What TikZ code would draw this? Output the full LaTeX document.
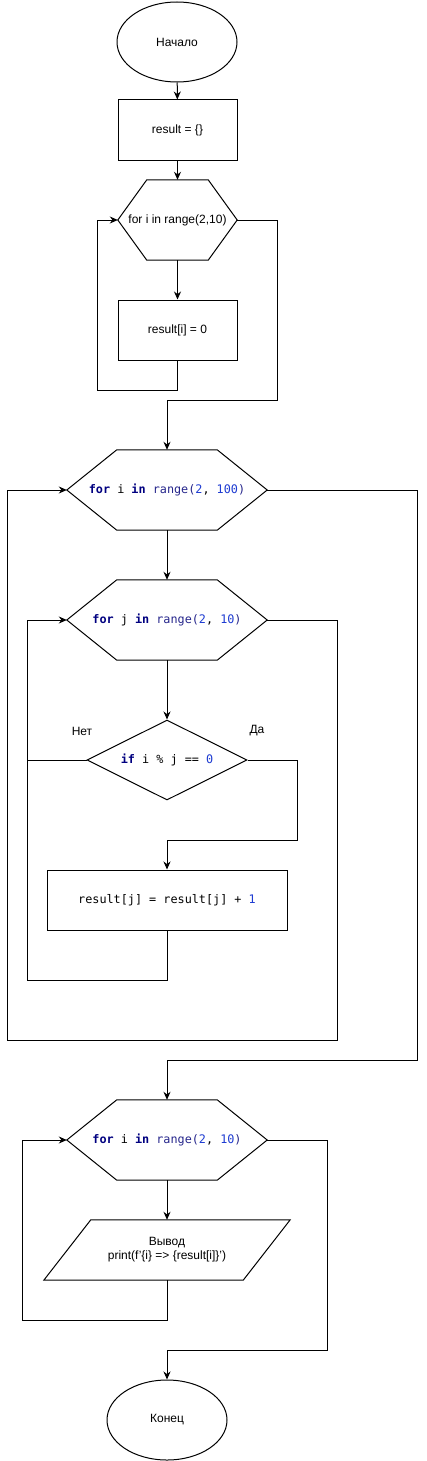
\documentclass[tikz,border=0pt]{standalone}
\usepackage{fontspec}
\setmainfont{Liberation Sans}
\newfontfamily\codefont{DejaVu Sans Mono}
\usetikzlibrary{shapes.geometric,arrows.meta}
\definecolor{kwc}{RGB}{0,0,128}
\definecolor{fnc}{RGB}{38,38,140}
\definecolor{numc}{RGB}{30,60,210}
\newcommand\kw[1]{\textcolor{kwc}{\bfseries #1}}
\newcommand\fn[1]{\textcolor{fnc}{#1}}
\newcommand\nm[1]{\textcolor{numc}{#1}}
\newcommand\hexpath[2]{\draw[line width=1pt] (#1.west) -- ([xshift=#2]#1.north west) -- ([xshift=-#2]#1.north east) -- (#1.east) -- ([xshift=-#2]#1.south east) -- ([xshift=#2]#1.south west) -- cycle;}
\begin{document}
\begin{tikzpicture}[x=1pt,y=-1pt,
  every node/.style={font=\fontsize{12pt}{14pt}\selectfont},
  term/.style={ellipse,draw,line width=1pt,minimum width=120pt,minimum height=80pt,inner sep=0pt},
  proc/.style={rectangle,draw,line width=1pt,minimum height=60pt,inner sep=0pt},
  hexbox/.style={rectangle,draw=none,minimum height=80pt,inner sep=0pt},
  cond/.style={diamond,draw,line width=1pt,minimum width=160pt,minimum height=80pt,inner sep=0pt,aspect=2},
  iobox/.style={rectangle,draw=none,minimum width=246pt,minimum height=60pt,inner sep=0pt,align=center},
  code/.style={font=\codefont\fontsize{11.8pt}{14pt}\selectfont},
  lbl/.style={font=\fontsize{12pt}{14pt}\selectfont},
  arr/.style={line width=1pt,-{Stealth[length=8pt,width=7pt]}},
  ln/.style={line width=1pt}]
\useasboundingbox[fill=white] (0,0) rectangle (426,1461);

\node[term] (start) at (177,42) {Начало};
\node[proc,minimum width=119pt] (r0) at (177.5,130) {result = \{\}};
\node[hexbox,minimum width=119pt] (h1) at (177.5,220) {for i in range(2,10)};
\hexpath{h1}{29pt}
\node[proc,minimum width=119pt] (r1) at (177.5,330) {result[i] = 0};

\node[hexbox,minimum width=200pt,code] (h2) at (167,490) {\kw{for} i \kw{in} \fn{range}\fn{(}\nm{2}, \nm{100}\fn{)}};
\hexpath{h2}{50pt}
\node[hexbox,minimum width=200pt,code] (h3) at (167,620) {\kw{for} j \kw{in} \fn{range}\fn{(}\nm{2}, \nm{10}\fn{)}};
\hexpath{h3}{50pt}
\node[cond,code] (d) at (167,760) {\kw{if} i \% j == \nm{0}};
\node[lbl] (no) at (82,731) {Нет};
\node[lbl] (yes) at (257,731) {Да};
\node[proc,minimum width=240pt,code] (r2) at (167,900) {result[j] = result[j] + \nm{1}};

\node[hexbox,minimum width=200pt,code] (h4) at (167,1140) {\kw{for} i \kw{in} \fn{range}\fn{(}\nm{2}, \nm{10}\fn{)}};
\hexpath{h4}{50pt}
\node[iobox] (p) at (167,1250) {Вывод\\print(f'\{i\} => \{result[i]\}')};
\draw[ln] ([xshift=47pt]p.north west) -- (p.north east) -- ([xshift=-47pt]p.south east) -- (p.south west) -- cycle;
\node[term] (end) at (167,1420) {Конец};

\coordinate (l1) at (97,390);
\coordinate (e1) at (277,400);
\coordinate (e2) at (417,1060);
\coordinate (e3) at (337,1040);
\coordinate (e3b) at (7,1040);
\coordinate (y1) at (297,840);
\coordinate (l2) at (27,980);
\coordinate (n1) at (27,760);
\coordinate (l4) at (22,1320);
\coordinate (e4) at (327,1350);

\draw[arr] (start) -- (r0);
\draw[arr] (r0) -- (h1.north);
\draw[arr] (h1.south) -- (r1);
\draw[arr] (r1.south) |- (l1) |- (h1.west);
\draw[arr] (h1.east) -| (e1) -| (h2.north);
\draw[arr] (h2.south) -- (h3.north);
\draw[arr] (h2.east) -| (e2) -| (h4.north);
\draw[arr] (h3.east) -| (e3) -- (e3b) |- (h2.west);
\draw[arr] (h3.south) -- (d.north);
\draw[arr] (d.east) -| (y1) -| (r2.north);
\draw[arr] (r2.south) |- (l2) |- (h3.west);
\draw[ln] (d.west) -- (n1);
\draw[arr] (h4.south) -- (p.north);
\draw[arr] (p.south) |- (l4) |- (h4.west);
\draw[arr] (h4.east) -| (e4) -| (end.north);
\end{tikzpicture}
\end{document}
